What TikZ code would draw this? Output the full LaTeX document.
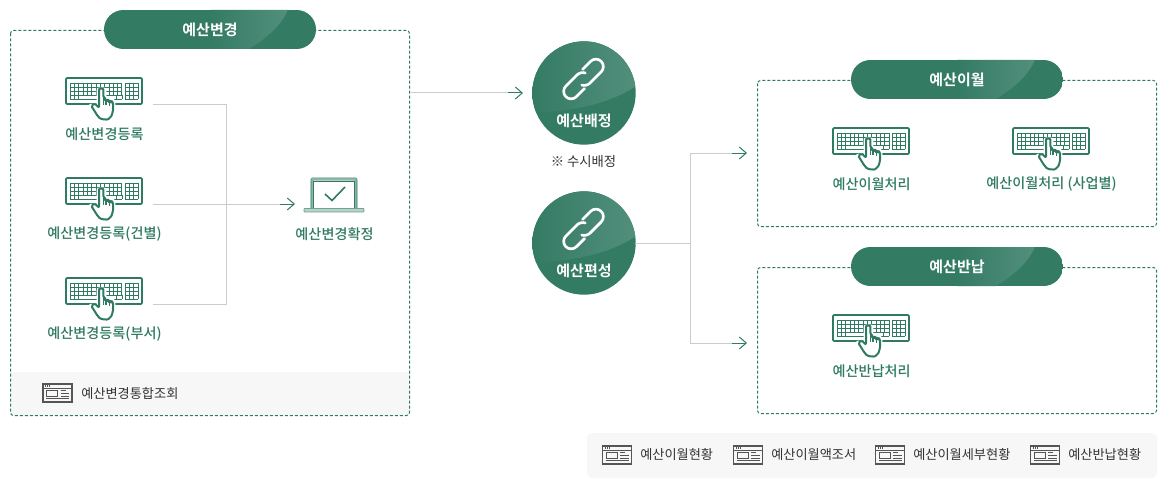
\documentclass[tikz,border=0pt]{standalone}
\usepackage{fontspec}
\setmainfont[BoldFont={Noto Sans CJK KR Medium}]{Noto Sans CJK KR}
\newfontfamily\krheavy{Noto Sans CJK KR Bold}
\usetikzlibrary{arrows.meta}
\definecolor{base}{HTML}{347B64}
\definecolor{lite}{HTML}{528F7C}
\definecolor{tgreen}{HTML}{2F7A62}
\definecolor{band}{HTML}{F7F7F7}
\definecolor{wire}{HTML}{CCCCCC}
\definecolor{ink}{HTML}{333333}
\definecolor{docc}{HTML}{555555}
\tikzset{
  x=0.75pt,y=-0.75pt,
  lw/.style={line width=0.75pt},
  dashbox/.style={draw=tgreen,lw,dash pattern=on 2.25pt off 1.5pt,rounded corners=2.25pt},
  wireline/.style={draw=wire,line width=0.75pt},
  tiphead/.style={draw=base,line width=0.75pt,-{Straight Barb[length=5.2pt,width=9pt,line width=0.75pt]}},
  glabel/.style={font=\fontsize{10.6pt}{12pt}\selectfont\bfseries,text=tgreen,inner sep=0pt},
  dlabel/.style={font=\fontsize{9.9pt}{12pt}\selectfont,text=ink,inner sep=0pt,anchor=west},
  wlabel/.style={font=\fontsize{11.25pt}{13pt}\selectfont\krheavy,text=white,inner sep=0pt},
  pilltext/.style={wlabel,minimum width=159pt,minimum height=29.25pt},
  pillbg/.pic={
    \clip[rounded corners=14.6pt] (-106,-19.5) rectangle (106,19.5);
    \fill[base] (-106,-19.5) rectangle (106,19.5);
    \shade[left color=base,right color=lite] (0,-20) -- (78,-20) .. controls (72,-5) and (58,8) .. (38,20) -- (0,20) -- cycle;
  },
  discbg/.pic={
    \clip (0,0) circle[radius=51.7];
    \fill[base] (-52,-52) rectangle (52,52);
    \shade[left color=base,right color=lite] (-52,20) .. controls (-10,18) and (25,11) .. (52,-7) -- (52,-52) -- (-52,-52) -- cycle;
  },
  keyboard/.pic={
    \draw[tgreen,line width=1.3pt,rounded corners=0.8pt] (-38,-13) rectangle (38,13);
    \foreach \r in {-8,-4,0,4,8} \draw[tgreen,line width=0.7pt] (-34,\r) -- (18,\r);
    \foreach \c in {-34,-29.67,...,18.1} \draw[tgreen,line width=0.7pt] (\c,-8) -- (\c,4);
    \foreach \c in {-34,-29.67,-25.33,12,18} \draw[tgreen,line width=0.7pt] (\c,4) -- (\c,8);
    \foreach \r in {-8,-4,0,4,8} \draw[tgreen,line width=0.7pt] (21,\r) -- (34,\r);
    \foreach \c in {21,25.33,29.67,34} \draw[tgreen,line width=0.7pt] (\c,-8) -- (\c,8);
    \draw[line width=3.6pt,white,line join=round] (-5,15) -- (-5,-1) -- (0,-1) -- (0,8) -- (9,10) -- (9,20) -- (6,28) -- (-5,27) -- (-13,15) -- cycle;
    \draw[tgreen,line width=1.5pt,fill=white,line join=round,rounded corners=1.5pt]
      (-5,17) -- (-9.5,12) -- (-13,14.5) -- (-6,25.5) .. controls (-3,28.5) and (3,29) .. (6,27)
      .. controls (8,24) and (9.2,20) .. (9.2,14) -- (9.2,11) -- (6.6,9.8) -- (5.4,11.5) -- (5.4,9.5) -- (2.8,8.5) -- (1.9,10.5) -- (1.9,8) -- (-0.6,7.2) -- (-0.6,0) .. controls (-0.8,-2.4) and (-4.8,-2.4) .. (-5,0) -- cycle;
    \draw[tgreen,line width=1pt] (1.9,10.5) -- (1.9,14) (5.4,11.5) -- (5.4,14.5) (-0.6,7.2) -- (-0.6,14);
  },
  docicon/.pic={
    \draw[docc,line width=0.9pt] (-14.5,-9) rectangle (14.5,9);
    \draw[docc,lw] (-14.5,-5) -- (14.5,-5) (-11.5,5.8) -- (11.5,5.8);
    \draw[docc,lw] (-11,-2.5) rectangle (0,3);
    \draw[docc,lw] (3,-2.5) -- (8,-2.5) (3,0.5) -- (11.5,0.5) (3,3) -- (11.5,3);
    \foreach \d in {-12.5,-10.5,-8.5} \fill[docc] (\d,-7.6) rectangle +(1.2,1.2);
  },
  laptop/.pic={
    \draw[base!55,line width=1.6pt,rounded corners=1.5pt,fill=white] (-22,15) -- (-22,-13.5) -- (22,-13.5) -- (22,15);
    \draw[tgreen,line width=0.6pt,rounded corners=1pt] (-23,15) -- (-23,-15) -- (23,-15) -- (23,15);
    \draw[tgreen,line width=0.75pt] (-20.5,15) -- (-20.5,-12) -- (20.5,-12) -- (20.5,15);
    \draw[base!70,fill=base!35,line width=0.6pt,rounded corners=0.6pt] (-30,15.5) rectangle (30,19);
    \draw[tgreen,line width=1.2pt] (-9,1) -- (-2,7.5) -- (11,-6);
  },
  linkicon/.pic={
    \begin{scope}[rotate=45]
      \draw[white,line width=2pt,line cap=round] (6,-7.5) -- (17.5,-7.5) .. controls (21.6,-7.5) and (25,-4.1) .. (25,0) .. controls (25,4.1) and (21.6,7.5) .. (17.5,7.5) -- (1.5,7.5) .. controls (-1,7.5) and (-4.5,5.5) .. (-5.5,3);
      \draw[white,line width=2pt,line cap=round] (-6,7.5) -- (-17.5,7.5) .. controls (-21.6,7.5) and (-25,4.1) .. (-25,0) .. controls (-25,-4.1) and (-21.6,-7.5) .. (-17.5,-7.5) -- (-1.5,-7.5) .. controls (1,-7.5) and (4.5,-5.5) .. (5.5,-3);
    \end{scope}
  },
}
\begin{document}
\begin{tikzpicture}
\useasboundingbox (0,0) rectangle (1167,503);
\fill[white] (0,0) rectangle (1167,503);

% boxes
\fill[band] (10.5,372) rectangle (409.5,415.5);
\path[dashbox] (10.5,30.5) rectangle (409.5,415.5);
\path[dashbox] (757.5,80.5) rectangle (1156.5,226.5);
\path[dashbox] (757.5,267.5) rectangle (1156.5,413.5);
\fill[band,rounded corners=4pt] (587,433) rectangle (1157,478);

% pills
\pic at (210,29.5) {pillbg};
\pic at (957,79.5) {pillbg};
\pic at (957,266.5) {pillbg};
\node[pilltext] (pillA) at (210,29.5) {예산변경};
\node[pilltext] (pillB) at (957,79.5) {예산이월};
\node[pilltext] (pillC) at (957,266.5) {예산반납};

% discs
\pic at (584,93) {discbg};
\pic at (584,243) {discbg};
\pic at (583.5,79) {linkicon};
\pic at (583.5,229) {linkicon};
\node[wlabel] (discAlabel) at (584,120.5) {예산배정};
\node[wlabel] (discBlabel) at (584,270.5) {예산편성};
\node[font=\fontsize{10pt}{12pt}\selectfont,text=ink,inner sep=0pt] (note) at (583.5,161.5) {※ 수시배정};

% keyboards
\pic at (104,91) {keyboard};
\pic at (104,191) {keyboard};
\pic at (104,291) {keyboard};
\pic at (871,141) {keyboard};
\pic at (1051,141) {keyboard};
\pic at (871,328) {keyboard};
\node[glabel] (kA) at (104.5,134) {예산변경등록};
\node[glabel] (kB) at (104.5,234) {예산변경등록(건별)};
\node[glabel] (kC) at (104.5,334) {예산변경등록(부서)};
\node[glabel] (kD) at (871.5,184) {예산이월처리};
\node[glabel] (kE) at (1051.5,184) {예산이월처리 (사업별)};
\node[glabel] (kF) at (871.5,371) {예산반납처리};

% laptop
\pic at (334,193) {laptop};
\node[glabel] (lapl) at (334.5,234) {예산변경확정};

% doc entries
\pic at (57.5,393) {docicon};
\node[dlabel] (dA) at (81,393) {예산변경통합조회};
\pic at (617,455) {docicon};
\node[dlabel] (dB) at (640,455) {예산이월현황};
\pic at (748,455) {docicon};
\node[dlabel] (dC) at (771,455) {예산이월액조서};
\pic at (890,455) {docicon};
\node[dlabel] (dD) at (913,455) {예산이월세부현황};
\pic at (1045,455) {docicon};
\node[dlabel] (dE) at (1068,455) {예산반납현황};

% connector points
\coordinate (oA) at (153,104);
\coordinate (oB) at (153,204);
\coordinate (oC) at (153,304);
\coordinate (jT) at (226.5,104);
\coordinate (jB) at (226.5,304);
\coordinate (jM) at (280,204);
\coordinate (hL) at (295,204);
\coordinate (o1) at (411,93);
\coordinate (j1) at (508,93);
\coordinate (h1) at (523,93);
\coordinate (o2) at (635,243);
\coordinate (j2) at (690.5,243);
\coordinate (t2) at (690.5,153);
\coordinate (b2) at (690.5,343);
\coordinate (m3) at (732,153);
\coordinate (h3) at (747,153);
\coordinate (m4) at (732,343);
\coordinate (h4) at (747,343);

\draw[wireline] (oA) -- (jT) -- (jB) -- (oC);
\draw[wireline] (oB) -- (jM);
\draw[tiphead] (jM) -- (hL);
\draw[wireline] (o1) -- (j1);
\draw[tiphead] (j1) -- (h1);
\draw[wireline] (o2) -- (j2);
\draw[wireline] (m3) -- (t2) -- (b2) -- (m4);
\draw[tiphead] (m3) -- (h3);
\draw[tiphead] (m4) -- (h4);
\end{tikzpicture}
\end{document}
